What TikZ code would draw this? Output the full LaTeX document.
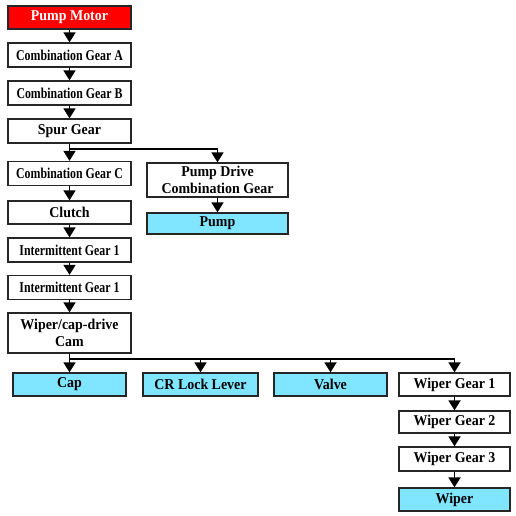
\documentclass[tikz,border=0pt]{standalone}
\usepackage{fontspec}
\setmainfont{Liberation Serif}
\newfontfamily\boxfont[FakeStretch=0.93]{Liberation Serif}
\newfontfamily\narrowfont[FakeStretch=0.79]{Liberation Serif}
\usetikzlibrary{arrows.meta}
\definecolor{motorred}{HTML}{FF0000}
\definecolor{outcyan}{HTML}{80E6FF}

\begin{document}
\begin{tikzpicture}[x=1pt,y=-1pt,>={Triangle[width=12pt,length=10pt]},
  blk/.style={draw=black!85,line width=1.3pt,fill=white,minimum height=24pt,
    inner sep=1pt,align=center,font=\boxfont\fontsize{15}{17.5}\selectfont\bfseries},
  small/.style={font=\narrowfont\fontsize{15}{17.5}\selectfont\bfseries},
  outp/.style={blk,fill=outcyan},
  link/.style={->,line width=1.8pt}]
  \useasboundingbox (0,0) rectangle (516,516);

  % drive train, left column
  \node[blk,fill=motorred,text=white,minimum width=123pt,minimum height=23pt] (motor) at (69.5,17.5) {Pump Motor};
  \foreach \n/\y/\lbl in {cga/55/{Combination Gear A}, cgb/93/{Combination Gear B},
      cgc/173.5/{Combination Gear C}, ig1/250/{Intermittent Gear 1}, ig2/287.5/{Intermittent Gear 1}}
    \node[blk,small,minimum width=123pt] (\n) at (69.5,\y) {\lbl};
  \node[blk,minimum width=123pt] (spur) at (69.5,131) {Spur Gear};
  \node[blk,minimum width=123pt,minimum height=23pt] (clutch) at (69.5,212.5) {Clutch};
  \node[blk,minimum width=123pt,minimum height=40pt] (cam) at (69.5,333) {Wiper/cap-drive\\Cam};

  % pump branch
  \node[blk,minimum width=141pt,minimum height=34pt] (pdcg) at (217.5,180) {Pump Drive\\Combination Gear};
  \node[outp,minimum width=141pt,minimum height=21pt] (pump) at (217.5,223.5) {Pump};

  % outputs of the cam
  \node[outp,minimum width=113pt,minimum height=23pt] (cap) at (69.5,384.5) {Cap};
  \node[outp,minimum width=115pt,minimum height=23pt] (crl) at (200.5,384.5) {CR Lock Lever};
  \node[outp,minimum width=113pt,minimum height=23pt] (valve) at (330.5,384.5) {Valve};
  \node[blk,minimum width=111pt,minimum height=23pt] (wg1) at (454.5,384.5) {Wiper Gear 1};
  \node[blk,minimum width=111pt,minimum height=22pt] (wg2) at (454.5,422) {Wiper Gear 2};
  \node[blk,minimum width=111pt,minimum height=24pt] (wg3) at (454.5,459) {Wiper Gear 3};
  \node[outp,minimum width=111pt,minimum height=23pt] (wiper) at (454.5,499.5) {Wiper};

  \foreach \a/\b in {motor/cga, cga/cgb, cgb/spur, spur/cgc, cgc/clutch, clutch/ig1, ig1/ig2,
      ig2/cam, pdcg/pump, cam/cap, wg1/wg2, wg2/wg3, wg3/wiper}
    \draw[link] (\a) -- (\b);

  \coordinate (fork1) at (69.5,149);
  \draw[link] (fork1) -| (pdcg.north);
  \coordinate (fork2) at (69.5,359);
  \foreach \t in {crl,valve,wg1}
    \draw[link] (fork2) -| (\t.north);
\end{tikzpicture}
\end{document}
